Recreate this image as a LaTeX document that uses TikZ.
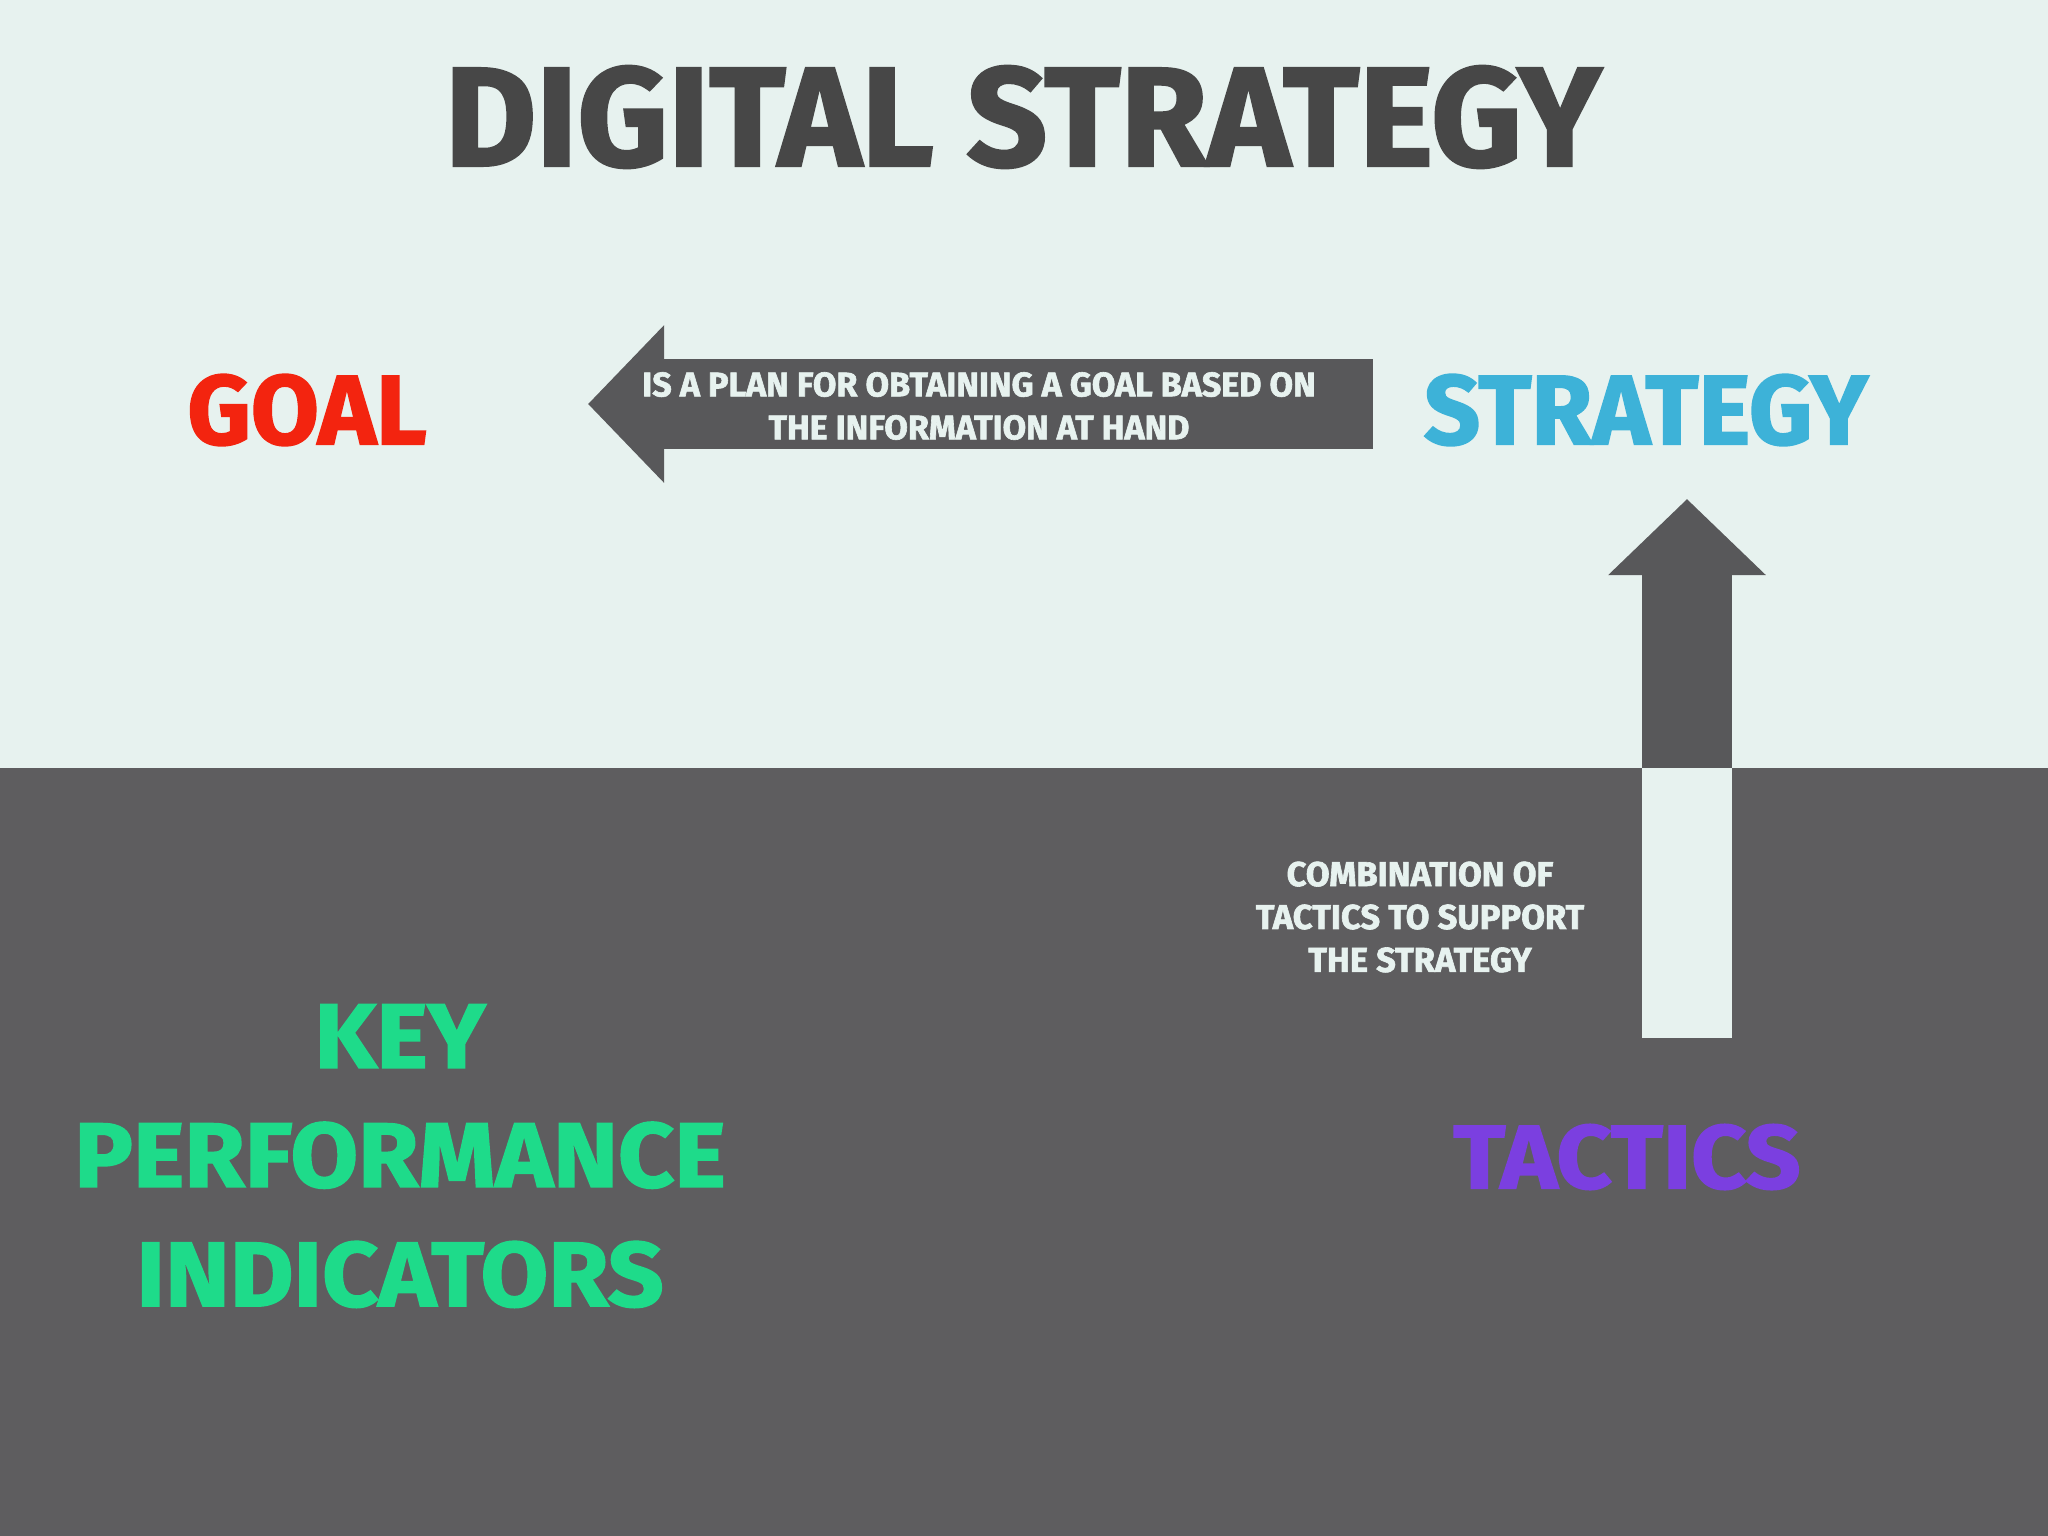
\documentclass[tikz,border=0pt]{standalone}
\usepackage{fontspec}
\newfontfamily\heavyfont{Fira Sans}[BoldFeatures={FakeBold=1.8}]
\newfontfamily\widefont{Fira Sans}[FakeStretch=1.07,BoldFeatures={FakeBold=1.8}]
\usetikzlibrary{arrows.meta}
\definecolor{paper}{HTML}{E7F2EF}
\definecolor{slate}{HTML}{5E5D5F}
\definecolor{arrowgray}{HTML}{58585A}
\definecolor{titlegray}{HTML}{474747}
\definecolor{goalred}{HTML}{F3240F}
\definecolor{stratblue}{HTML}{3DB2D8}
\definecolor{tacpurple}{HTML}{7B3FE0}
\definecolor{kpigreen}{HTML}{1EDB8A}
\begin{document}
\begin{tikzpicture}
  [x=0.01cm,y=-0.01cm,
   word/.style=
     {inner sep=0pt,font=\heavyfont\bfseries\fontsize{28}{30}\selectfont},
   note/.style=
     {inner sep=0pt,align=center,text=paper,
      font=\heavyfont\bfseries\fontsize{9.7}{12.2}\selectfont},
   bigarrow/.style=
     {arrowgray,line width=0.9cm,
      -{Triangle[length=0.76cm,width=1.53cm]}}
  ]
  \useasboundingbox (0,0) rectangle (2048,1536);
  \fill[paper] (0,0) rectangle (2048,768);
  \fill[slate] (0,768) rectangle (2048,1536);

  \node[word,text=titlegray,font=\heavyfont\bfseries\fontsize{40}{42}\selectfont]
    (title) at (1023,117) {DIGITAL STRATEGY};
  \node[word,text=goalred] (goal) at (307,410) {GOAL};
  \node[word,text=stratblue] (strategy) at (1646,410) {STRATEGY};
  \node[word,text=tacpurple,font=\widefont\bfseries\fontsize{25.6}{27}\selectfont]
    (tactics) at (1627,1157) {TACTICS};
  \node[word,text=kpigreen,align=center,
        font=\widefont\bfseries\fontsize{26}{33.9}\selectfont]
    (kpi) at (400,1156) {KEY\\PERFORMANCE\\INDICATORS};

  \coordinate (planEnd) at (1373,404);
  \coordinate (planTip) at (588,404);
  \draw[bigarrow] (planEnd) -- (planTip);
  \node[note] (plan) at (979,406)
    {IS A PLAN FOR OBTAINING A GOAL BASED ON\\THE INFORMATION AT HAND};

  \coordinate (tacFoot) at (1687,1038);
  \coordinate (split) at (1687,768);
  \coordinate (tacTip) at (1687,499);
  \draw[bigarrow] (split) -- (tacTip);
  \draw[paper,line width=0.89cm] (tacFoot) -- (split);
  \node[note,font=\heavyfont\bfseries\fontsize{9.8}{12.2}\selectfont]
    (combo) at (1420,917)
    {COMBINATION OF\\TACTICS TO SUPPORT\\THE STRATEGY};
\end{tikzpicture}
\end{document}
